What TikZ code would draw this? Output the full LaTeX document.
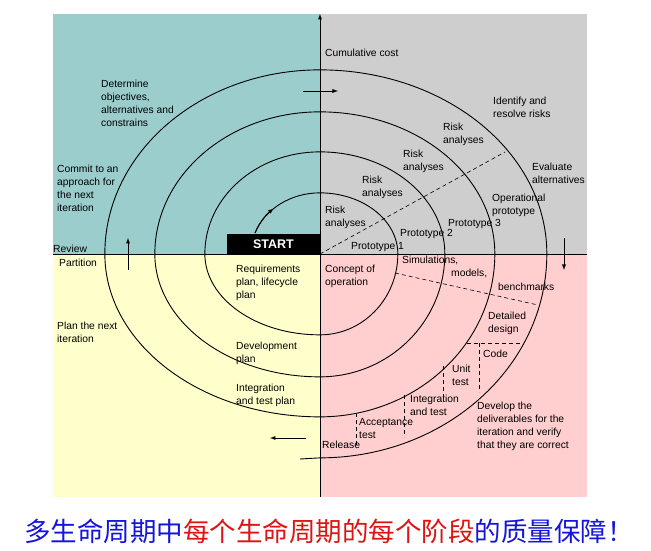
\documentclass[tikz,border=0pt]{standalone}
\usepackage{fontspec}
\setmainfont{Liberation Sans}
\newfontfamily\cjk{Noto Sans CJK SC}
\usetikzlibrary{arrows}

\definecolor{objblue}{RGB}{155,205,205}
\definecolor{riskgray}{RGB}{206,206,206}
\definecolor{planyellow}{RGB}{255,255,204}
\definecolor{devpink}{RGB}{255,206,206}
\definecolor{capblue}{RGB}{20,20,220}
\definecolor{capred}{RGB}{220,20,20}

\tikzset{
  lbl/.style={anchor=north west, inner sep=0pt, align=left, font=\fontsize{10.3}{12.8}\selectfont},
  spiral/.style={line width=0.9pt},
  phase/.style={line width=0.6pt, dash pattern=on 4pt off 3pt},
  dirarrow/.style={-latex, line width=0.9pt},
  startbox/.style={fill=black, text=white, inner sep=0pt, minimum width=93pt, minimum height=20pt, font=\bfseries\fontsize{12.5}{14}\selectfont},
}

\begin{document}
\begin{tikzpicture}[x=1pt,y=1pt]
\useasboundingbox (-320,-297) rectangle (331,254);

% quadrants
\fill[objblue] (-267,0) rectangle (0,240);
\fill[riskgray] (0,0) rectangle (267,240);
\fill[planyellow] (-267,-243) rectangle (0,0);
\fill[devpink] (0,-243) rectangle (267,0);

% axes
\draw[line width=0.9pt] (-267,0) -- (267,0);
\draw[dirarrow] (0,-243) -- (0,240);

% start box
\node[startbox] (start) at (-46.5,10) {START};

% the spiral
\draw[dirarrow] (-65,21) arc[start angle=160, end angle=132, x radius=69pt, y radius=61pt];
\draw[spiral] (-65,21) arc[start angle=160, end angle=90, x radius=69pt, y radius=61pt]
  arc[start angle=90, end angle=0, x radius=78pt, y radius=61pt]
  arc[start angle=0, end angle=-90, x radius=78pt, y radius=81pt]
  arc[start angle=270, end angle=180, x radius=115pt, y radius=81pt]
  arc[start angle=180, end angle=90, x radius=115pt, y radius=102pt]
  arc[start angle=90, end angle=0, x radius=125pt, y radius=102pt]
  arc[start angle=0, end angle=-90, x radius=125pt, y radius=123pt]
  arc[start angle=270, end angle=180, x radius=165pt, y radius=123pt]
  arc[start angle=180, end angle=90, x radius=165pt, y radius=142pt]
  arc[start angle=90, end angle=0, x radius=175pt, y radius=142pt]
  arc[start angle=0, end angle=-90, x radius=175pt, y radius=163pt]
  arc[start angle=270, end angle=180, x radius=215pt, y radius=163pt]
  arc[start angle=180, end angle=90, x radius=215pt, y radius=184pt]
  arc[start angle=90, end angle=0, x radius=227pt, y radius=184pt]
  arc[start angle=0, end angle=-90, x radius=227pt, y radius=204pt]
  -- (-20,-205);

% direction arrows
\draw[dirarrow] (-17,163) -- (18,163);
\draw[dirarrow] (244,16) -- (244,-16);
\draw[dirarrow] (-14,-184) -- (-50,-184);
\draw[dirarrow] (-192,-16) -- (-192,16);

% dashed lines
\draw[phase] (0,0) -- (185,102);
\draw[phase] (75,-19) -- (218,-51);
\draw[phase] (147,-89) -- (202,-89);
\draw[phase] (159,-89) -- (159,-138);
\draw[phase] (123,-112) -- (123,-142);
\draw[phase] (84,-141) -- (84,-183);
\draw[phase] (36,-159) -- (36,-194);

% top left
\node[lbl] (determine) at (-219,174) {Determine\\objectives,\\alternatives and\\constrains};
\node[lbl] (commit) at (-263,89) {Commit to an\\approach for\\the next\\iteration};
\node[lbl] (review) at (-267,9) {Review};

% bottom left
\node[lbl] (partition) at (-261,-5) {Partition};
\node[lbl] (plannext) at (-263,-68) {Plan the next\\iteration};
\node[lbl] (reqplan) at (-84,-11) {Requirements\\plan, lifecycle\\plan};
\node[lbl] (devplan) at (-84,-88) {Development\\plan};
\node[lbl] (itplan) at (-84,-130) {Integration\\and test plan};

% top right
\node[lbl] (cumcost) at (5,205) {Cumulative cost};
\node[lbl] (identify) at (173,157) {Identify and\\resolve risks};
\node[lbl] (risk4) at (123,131) {Risk\\analyses};
\node[lbl] (risk3) at (83,104) {Risk\\analyses};
\node[lbl] (risk2) at (42,78) {Risk\\analyses};
\node[lbl] (risk1) at (5,48) {Risk\\analyses};
\node[lbl] (evaluate) at (212,91) {Evaluate\\alternatives};
\node[lbl] (operproto) at (172,60) {Operational\\prototype};
\node[lbl] (proto3) at (128,35) {Prototype 3};
\node[lbl] (proto2) at (80,25) {Prototype 2};
\node[lbl] (proto1) at (31,12) {Prototype 1};

% bottom right
\node[lbl] (concept) at (5,-11) {Concept of\\operation};
\node[lbl] (simul) at (82,-2) {Simulations,};
\node[lbl] (models) at (131,-15) {models,};
\node[lbl] (bench) at (178,-29) {benchmarks};
\node[lbl] (detailed) at (168,-58) {Detailed\\design};
\node[lbl] (code) at (163,-96) {Code};
\node[lbl] (unittest) at (132,-111) {Unit\\test};
\node[lbl] (integtest) at (90,-141) {Integration\\and test};
\node[lbl] (accept) at (39,-164) {Acceptance\\test};
\node[lbl] (release) at (2,-187) {Release};
\node[lbl] (develop) at (157,-148) {Develop the\\deliverables for the\\iteration and verify\\that they are correct};

% caption
\node (caption) at (9,-277) {\cjk\fontsize{26.5}{28}\selectfont\color{capblue}多生命周期中\textcolor{capred}{每个生命周期的每个阶段}的质量保障！};
\end{tikzpicture}
\end{document}
